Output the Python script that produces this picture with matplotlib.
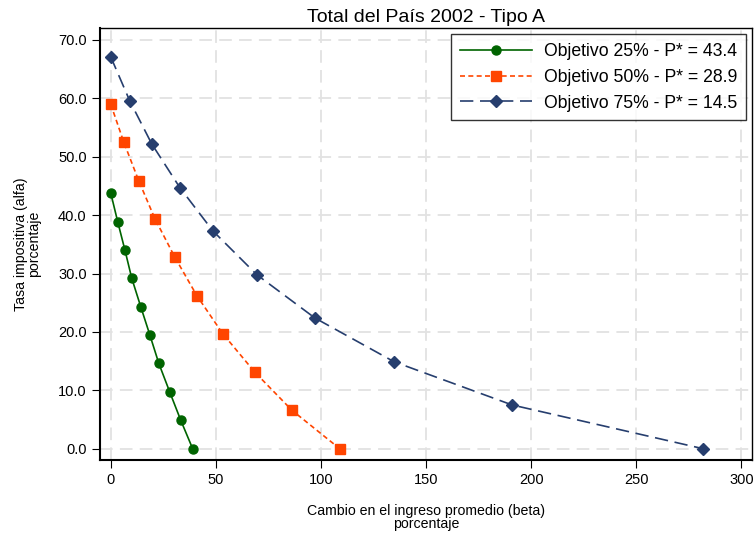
import matplotlib
matplotlib.use("Agg")
import matplotlib.pyplot as plt

plt.rcParams['font.family'] = ['Liberation Sans', 'DejaVu Sans']

#valores (beta, alfa)
beta_25 = [0, 3.3, 6.7, 10.0, 14.3, 18.6, 22.9, 28.1, 33.3, 39.0]
alfa_25 = [43.8, 38.9, 34.1, 29.2, 24.3, 19.5, 14.6, 9.7, 4.9, 0.0]
beta_50 = [0, 6.2, 13.3, 21.0, 30.5, 41.0, 53.3, 68.6, 86.2, 109.0]
alfa_50 = [59.0, 52.5, 45.9, 39.4, 32.8, 26.2, 19.7, 13.1, 6.6, 0.0]
beta_75 = [0, 9.0, 19.5, 32.9, 48.6, 69.5, 97.1, 134.8, 191.0, 282.0]
alfa_75 = [67.1, 59.6, 52.2, 44.7, 37.3, 29.8, 22.4, 14.9, 7.5, 0.0]
etiquetas = ["Objetivo 25% - P* = 43.4", "Objetivo 50% - P* = 28.9", "Objetivo 75% - P* = 14.5"]
xticks = [0, 50, 100, 150, 200, 250, 300]
yticks = [0, 10, 20, 30, 40, 50, 60, 70]

fig = plt.figure(figsize=(7.56, 5.36), dpi=100)
ax = fig.add_axes([0.132, 0.142, 0.863, 0.806])

ax.plot(beta_25, alfa_25, color="#006400", marker="o", markersize=6.5, linewidth=1.2, label=etiquetas[0])
ax.plot(beta_50, alfa_50, color="#FF4500", marker="s", markersize=6.5, linewidth=1.2, linestyle=(0, (3, 2)), label=etiquetas[1])
ax.plot(beta_75, alfa_75, color="#263E6E", marker="D", markersize=6.5, linewidth=1.2, linestyle=(0, (8, 4)), label=etiquetas[2])

ax.set_xlim(-5.2, 305.2)
ax.set_ylim(-1.9, 72.05)
ax.set_xticks(xticks)
ax.set_yticks(yticks)
ax.set_yticklabels(["%.1f" % v for v in yticks])
ax.tick_params(labelsize=10.5, length=6, direction="out")
ax.grid(True, color="#e2e2e2", linestyle=(0, (7, 4)), linewidth=1.3)
ax.set_axisbelow(True)

for s in ["left", "bottom"]:
    ax.spines[s].set_linewidth(1.5)
for s in ["top", "right"]:
    ax.spines[s].set_linewidth(1.0)

ax.set_title("Total del País 2002 - Tipo A", fontsize=14, pad=4)
ax.set_xlabel("Cambio en el ingreso promedio (beta)\nporcentaje", fontsize=10.2, labelpad=12, linespacing=0.95)
ax.set_ylabel("Tasa impositiva (alfa)\nporcentaje", fontsize=10.2, labelpad=12, linespacing=0.95)

leg = ax.legend(loc="upper right", fontsize=12.7, frameon=True, fancybox=False,
                edgecolor="black", borderaxespad=0.35, handlelength=4.1, handletextpad=0.65,
                labelspacing=0.5, borderpad=0.5)
leg.get_frame().set_linewidth(1.0)

fig.savefig("out.png", dpi=100)
